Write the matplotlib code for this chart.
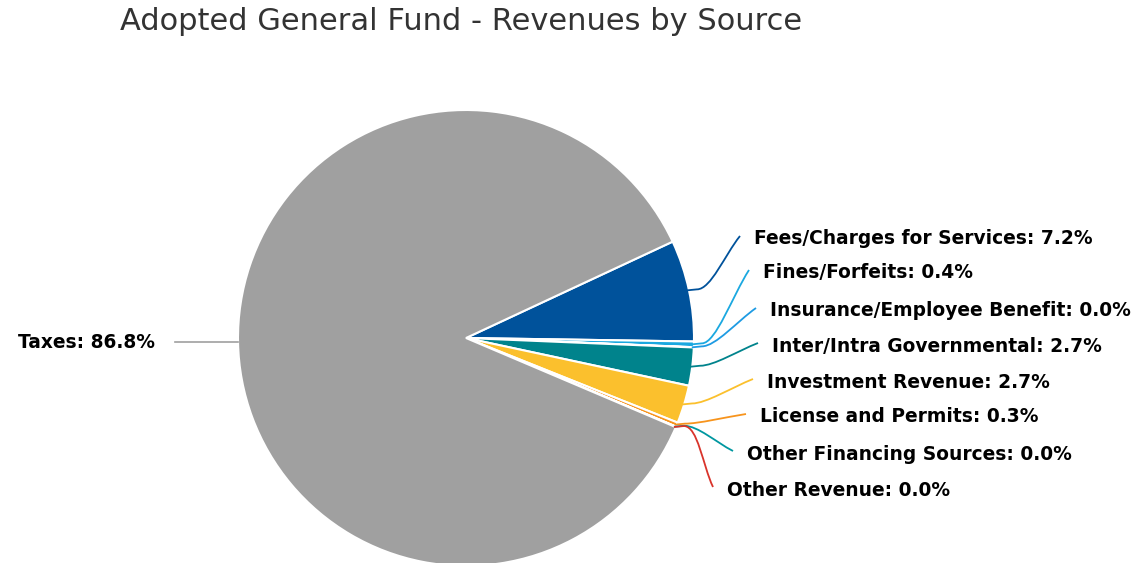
import matplotlib.pyplot as plt
import numpy as np
from matplotlib.path import Path
from matplotlib.patches import PathPatch

# data
sources = ["Fees/Charges for Services", "Fines/Forfeits", "Insurance/Employee Benefit",
           "Inter/Intra Governmental", "Investment Revenue", "License and Permits",
           "Other Financing Sources", "Other Revenue", "Taxes"]
shares = [7.2, 0.4, 0.02, 2.7, 2.7, 0.3, 0.02, 0.02, 86.8]
shown = [7.2, 0.4, 0.0, 2.7, 2.7, 0.3, 0.0, 0.0, 86.8]
colors = ["#00529b", "#1ba8e0", "#1e9be3", "#00838c", "#fbc02d", "#f7941d",
          "#0097a0", "#d9342b", "#a0a0a0"]

# label anchors in pixels (left x, center y from top); taxes is right-aligned
label_pos = [(754, 239), (763, 273), (770, 311), (772, 346), (767, 382),
             (760, 417), (747, 454), (727, 490), (155, 342)]

W, H = 1146, 563
fig = plt.figure(figsize=(W / 100, H / 100), dpi=100)
ax = fig.add_axes([0, 0, 1, 1])

cx, cy, r = 466, H - 338, 228
wedges, _ = ax.pie(shares, colors=colors, startangle=25, counterclock=False,
                   center=(cx, cy), radius=r, frame=True,
                   wedgeprops=dict(edgecolor="white", linewidth=1.5))
ax.set_xlim(0, W)
ax.set_ylim(0, H)
ax.set_aspect("equal")
ax.axis("off")

for w, name, val, c, (lx, ly) in zip(wedges, sources, shown, colors, label_pos):
    mid = np.deg2rad((w.theta1 + w.theta2) / 2)
    ex, ey = cx + r * np.cos(mid), cy + r * np.sin(mid)
    ly = H - ly
    txt = f"{name}: {val:.1f}%"
    if name == "Taxes":
        ax.plot([lx + 20, ex], [ly, ly], color=c, lw=1.2, zorder=1)
        ax.text(lx, ly, txt, ha="right", va="center", fontsize=13.4, fontweight="bold", color="black")
        continue
    x0, y0 = ex - 2, ey
    x1, y1 = ex + 8, ey + 1
    x3, y3 = lx - 14, ly + 3
    c2 = (x3 - (x3 - x1) * 0.35, y3 - (y3 - y1) * 0.35)
    verts = [(x0, y0), (x1, y1), (x1 + 14, y1), c2, (x3, y3)]
    codes = [Path.MOVETO, Path.LINETO, Path.CURVE4, Path.CURVE4, Path.CURVE4]
    # smooth connector like the original
    ax.add_patch(PathPatch(Path(verts, codes), fill=False, edgecolor=c, lw=1.3, zorder=3))
    ax.text(lx, ly, txt, ha="left", va="center", fontsize=13.4, fontweight="bold", color="black")

fig.text(120 / W, 1 - 22 / H, "Adopted General Fund - Revenues by Source",
         ha="left", va="center", fontsize=22, color="#333333")

fig.savefig("out.png", dpi=100)
